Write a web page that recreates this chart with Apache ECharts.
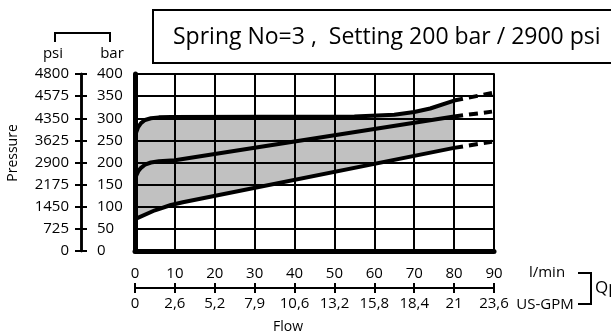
<!DOCTYPE html>
<html>
<head>
<meta charset="utf-8">
<script src="https://cdn.jsdelivr.net/npm/echarts@6/dist/echarts.min.js"></script>
<style>
html,body{margin:0;padding:0;background:#fff;}
#chart{width:611px;height:336px;}
</style>
</head>
<body>
<div id="chart"></div>
<script>
// Flow (l/min) and pressure (bar) readings
var topQ = [0, 0.3, 0.8, 1.5, 2.5, 4, 6, 9, 55, 65, 70, 74, 80];
var topP = [255, 268, 280, 289, 296, 300, 302, 303, 304, 308, 314, 322, 340];
var midQ = [0, 0.3, 0.8, 1.5, 2.5, 4, 6, 10, 80];
var midP = [160, 170, 180, 188, 195, 200, 203, 205, 304];
var botQ = [0, 5, 9, 12, 80];
var botP = [72, 92, 104, 110, 233];
var topDashQ = [80, 89.5];
var topDashP = [340, 357];
var midDashQ = [80, 89.5];
var midDashP = [304, 315];
var botDashQ = [80, 89.5];
var botDashP = [233, 247];

// Tick labels
var lpmLabels = ['0','10','20','30','40','50','60','70','80','90'];
var gpmLabels = ['0','2,6','5,2','7,9','10,6','13,2','15,8','18,4','21','23,6'];
var barLabels = ['0','50','100','150','200','250','300','350','400'];
var psiLabels = ['0','725','1450','2175','2900','3625','4350','4575','4800'];

var titleText = 'Spring No=3 ,  Setting 200 bar / 2900 psi';

function zip(a, b) { return a.map(function (v, i) { return [v, b[i]]; }); }

var FONT = '"Open Sans", sans-serif';
var chart = echarts.init(document.getElementById('chart'), null, {renderer: 'canvas'});

function lineSeries(q, p, dashed) {
  return {
    type: 'line',
    data: zip(q, p),
    showSymbol: false,
    symbol: 'none',
    smooth: false,
    lineStyle: {color: '#000', width: 4, type: dashed ? [9, 6] : 'solid', cap: 'butt', join: 'round'},
    z: 5,
    animation: false
  };
}

var option = {
  animation: false,
  backgroundColor: '#fff',
  textStyle: {fontFamily: FONT, color: '#000'},
  grid: {left: 135, top: 74, width: 359, height: 177, show: true, borderColor: '#444', borderWidth: 2},
  xAxis: [
    {
      type: 'value', min: 0, max: 90, interval: 10,
      axisLine: {show: true, lineStyle: {color: '#000', width: 5}},
      axisTick: {show: false}, axisLabel: {show: false},
      splitLine: {show: true, lineStyle: {color: '#000', width: 2}}
    },
    {
      type: 'value', min: 0, max: 90, interval: 10, position: 'bottom', offset: 37,
      axisLine: {show: true, onZero: false, lineStyle: {color: '#000', width: 2}},
      axisTick: {show: true, inside: true, length: 5, lineStyle: {color: '#000', width: 2}},
      axisLabel: {show: true, inside: true, margin: 7, fontSize: 15, fontFamily: FONT, color: '#000',
        formatter: function (v) { return lpmLabels[Math.round(v / 10)]; }},
      splitLine: {show: false}
    },
    {
      type: 'value', min: 0, max: 90, interval: 10, position: 'bottom', offset: 37,
      axisLine: {show: true, onZero: false, lineStyle: {color: '#000', width: 2}},
      axisTick: {show: true, inside: false, length: 5, lineStyle: {color: '#000', width: 2}},
      axisLabel: {show: true, margin: 8, fontSize: 15, fontFamily: FONT, color: '#000',
        formatter: function (v) { return gpmLabels[Math.round(v / 10)]; }},
      splitLine: {show: false}
    }
  ],
  yAxis: [
    {
      type: 'value', min: 0, max: 400, interval: 50,
      axisLine: {show: true, lineStyle: {color: '#000', width: 5}},
      axisTick: {show: false}, axisLabel: {show: false},
      splitLine: {show: true, lineStyle: {color: '#000', width: 2}}
    },
    {
      type: 'value', min: 0, max: 400, interval: 50, position: 'left', offset: 54,
      axisLine: {show: true, onZero: false, lineStyle: {color: '#000', width: 2.5}},
      axisTick: {show: true, inside: false, length: 6, lineStyle: {color: '#000', width: 2}},
      axisLabel: {show: true, margin: 12, fontSize: 15, fontFamily: FONT, color: '#000',
        formatter: function (v) { return psiLabels[Math.round(v / 50)]; }},
      splitLine: {show: false}
    },
    {
      type: 'value', min: 0, max: 400, interval: 50, position: 'left', offset: 54,
      axisLine: {show: true, onZero: false, lineStyle: {color: '#000', width: 2.5}},
      axisTick: {show: true, inside: true, length: 6, lineStyle: {color: '#000', width: 2}},
      axisLabel: {show: true, inside: true, margin: 16, fontSize: 15, fontFamily: FONT, color: '#000',
        formatter: function (v) { return barLabels[Math.round(v / 50)]; }},
      splitLine: {show: false}
    }
  ],
  series: [
    {
      type: 'custom',
      z: -1,
      data: [[0, 0]],
      renderItem: function (params, api) {
        var pts = [];
        for (var i = 0; i < topQ.length; i++) pts.push(api.coord([topQ[i], topP[i]]));
        for (var j = botQ.length - 1; j >= 0; j--) pts.push(api.coord([botQ[j], botP[j]]));
        return {type: 'polygon', shape: {points: pts, smooth: 0}, style: {fill: '#c1c1c1', stroke: 'none'}};
      },
      silent: true
    },
    lineSeries(topQ, topP, false),
    lineSeries(midQ, midP, false),
    lineSeries(botQ, botP, false),
    lineSeries(topDashQ, topDashP, true),
    lineSeries(midDashQ, midDashP, true),
    lineSeries(botDashQ, botDashP, true)
  ],
  graphic: [
    {type: 'rect', shape: {x: 153, y: 10, width: 480, height: 53}, style: {fill: 'none', stroke: '#000', lineWidth: 2}},
    {type: 'text', x: 173, y: 37, style: {text: titleText, font: '23px "Open Sans", sans-serif', fill: '#000', verticalAlign: 'middle'}},
    {type: 'polyline', shape: {points: [[55, 42], [55, 33], [110, 33], [110, 42]]}, style: {stroke: '#000', lineWidth: 2, fill: 'none'}},
    {type: 'text', x: 53, y: 54, style: {text: 'psi', font: '15px "Open Sans", sans-serif', fill: '#000', align: 'center', verticalAlign: 'middle'}},
    {type: 'text', x: 112, y: 54, style: {text: 'bar', font: '15px "Open Sans", sans-serif', fill: '#000', align: 'center', verticalAlign: 'middle'}},
    {type: 'text', x: 13, y: 153, rotation: Math.PI / 2, style: {text: 'Pressure', font: '14px "Open Sans", sans-serif', fill: '#000', align: 'center', verticalAlign: 'middle'}},
    {type: 'text', x: 547, y: 273, style: {text: 'l/min', font: '15px "Open Sans", sans-serif', fill: '#000', align: 'center', verticalAlign: 'middle'}},
    {type: 'text', x: 545, y: 305, style: {text: 'US-GPM', font: '15px "Open Sans", sans-serif', fill: '#000', align: 'center', verticalAlign: 'middle'}},
    {type: 'polyline', shape: {points: [[578, 273], [591, 273], [591, 304], [578, 304]]}, style: {stroke: '#000', lineWidth: 2, fill: 'none'}},
    {type: 'text', x: 595, y: 288, style: {text: 'Qp', font: '17px "Open Sans", sans-serif', fill: '#000', align: 'left', verticalAlign: 'middle'}},
    {type: 'text', x: 288, y: 327, style: {text: 'Flow', font: '14px "Open Sans", sans-serif', fill: '#000', align: 'center', verticalAlign: 'middle'}}
  ]
};
chart.setOption(option);
</script>
</body>
</html>
